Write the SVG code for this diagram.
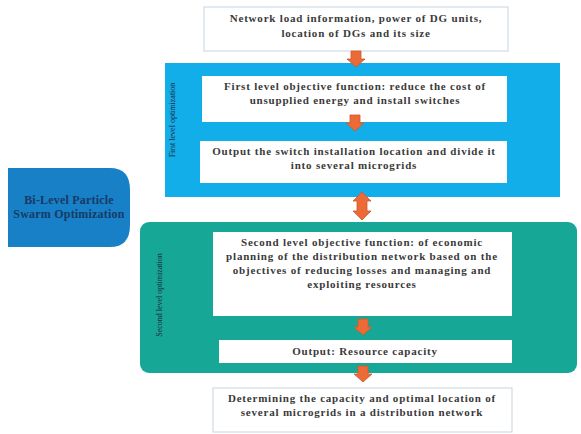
<svg xmlns="http://www.w3.org/2000/svg" width="581" height="434" viewBox="0 0 581 434">
<defs>
<style>
.t{font-family:"Liberation Serif","Times New Roman",serif;font-weight:bold;font-size:11px;fill:#3a3a3a;text-anchor:middle;letter-spacing:0.8px}
.box{fill:#fff;stroke:#c5d3df;stroke-width:1}
.ibox{fill:#fff}
.arr{fill:#ec6a35;stroke:#d2582a;stroke-width:0.8}
.vt{font-family:"Liberation Serif","Times New Roman",serif;font-size:8px;fill:#1d2a3a;text-anchor:middle}
.pso{font-family:"Liberation Serif","Times New Roman",serif;font-weight:bold;font-size:12px;fill:#173a66;text-anchor:middle;letter-spacing:0.2px}
</style>
<path id="da" d="M-5,0 H5 V8 H9 L0,16 L-9,8 H-5 Z"/>
</defs>
<rect width="581" height="434" fill="#fff"/>

<g id="input">
<rect class="box" x="204" y="7" width="304" height="44"/>
<text class="t" x="356" y="22">Network load information, power of DG units,</text>
<text class="t" x="356" y="37">location of DGs and its size</text>
</g>

<g id="first-level">
<rect x="165" y="63" width="395" height="134" fill="#12aee9"/>
<text class="vt" transform="translate(175,120) rotate(-90)">First level optimization</text>
</g>
<g id="first-objective">
<rect class="ibox" x="202" y="76" width="305" height="46"/>
<text class="t" x="355" y="90">First level objective function: reduce the cost of</text>
<text class="t" x="355" y="104">unsupplied energy and install switches</text>
</g>
<g id="first-output">
<rect class="ibox" x="200" y="141" width="307" height="42"/>
<text class="t" x="354" y="155">Output the switch installation location and divide it</text>
<text class="t" x="354" y="169">into several microgrids</text>
</g>

<g id="bilevel-pso">
<path d="M8,168 H110 Q130,168 130,190 V225 Q130,247 110,247 H8 Z" fill="#1880c6"/>
<text class="pso" x="69" y="204">Bi-Level Particle</text>
<text class="pso" x="69" y="218">Swarm Optimization</text>
</g>

<g id="second-level">
<rect x="140" y="222" width="437" height="151" rx="9" fill="#17a797"/>
<text class="vt" transform="translate(162,295) rotate(-90)">Second level optimization</text>
</g>
<g id="second-objective">
<rect class="ibox" x="213" y="232" width="299" height="84"/>
<text class="t" x="362" y="246">Second level objective function: of economic</text>
<text class="t" x="362" y="260">planning of the distribution network based on the</text>
<text class="t" x="362" y="274">objectives of reducing losses and managing and</text>
<text class="t" x="362" y="288">exploiting resources</text>
</g>
<g id="second-output">
<rect class="ibox" x="219" y="340" width="293" height="23"/>
<text class="t" x="365" y="355">Output: Resource capacity</text>
</g>

<g id="result">
<rect class="box" x="213" y="388" width="299" height="44"/>
<text class="t" x="362" y="402">Determining the capacity and optimal location of</text>
<text class="t" x="362" y="416">several microgrids in a distribution network</text>
</g>

<g id="connectors">
<use href="#da" class="arr" x="356" y="51"/>
<use href="#da" class="arr" x="355" y="115"/>
<path class="arr" d="M362,192 L371,201 H367 V211 H371 L362,220 L353,211 H357 V201 H353 Z"/>
<use href="#da" class="arr" x="363" y="319"/>
<use href="#da" class="arr" x="363" y="366"/>
</g>
</svg>
